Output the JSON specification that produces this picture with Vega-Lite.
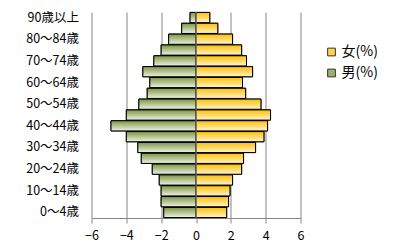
{
  "$schema": "https://vega.github.io/schema/vega-lite/v6.json",
  "autosize": "none",
  "width": 209,
  "height": 206,
  "padding": {"left": 91.5, "top": 12, "right": 110.5, "bottom": 32},
  "background": "white",
  "config": {
    "view": {"stroke": null},
    "font": "Noto Sans CJK JP",
    "axis": {"labelFont": "Noto Sans CJK JP", "labelColor": "#000000", "labelFontSize": 12.5},
    "legend": {"labelFont": "Noto Sans CJK JP"}
  },
  "data": {
    "values": [
      {"age": "0～4歳", "sex": "男(%)", "value": -1.85},
      {"age": "5～9歳", "sex": "男(%)", "value": -2.0},
      {"age": "10～14歳", "sex": "男(%)", "value": -2.0},
      {"age": "15～19歳", "sex": "男(%)", "value": -2.11},
      {"age": "20～24歳", "sex": "男(%)", "value": -2.51},
      {"age": "25～29歳", "sex": "男(%)", "value": -3.14},
      {"age": "30～34歳", "sex": "男(%)", "value": -3.34},
      {"age": "35～39歳", "sex": "男(%)", "value": -4.0},
      {"age": "40～44歳", "sex": "男(%)", "value": -4.88},
      {"age": "45～49歳", "sex": "男(%)", "value": -4.0},
      {"age": "50～54歳", "sex": "男(%)", "value": -3.28},
      {"age": "55～59歳", "sex": "男(%)", "value": -2.8},
      {"age": "60～64歳", "sex": "男(%)", "value": -2.65},
      {"age": "65～69歳", "sex": "男(%)", "value": -3.05},
      {"age": "70～74歳", "sex": "男(%)", "value": -2.42},
      {"age": "75～79歳", "sex": "男(%)", "value": -2.0},
      {"age": "80～84歳", "sex": "男(%)", "value": -1.57},
      {"age": "85～89歳", "sex": "男(%)", "value": -0.82},
      {"age": "90歳以上", "sex": "男(%)", "value": -0.34},
      {"age": "0～4歳", "sex": "女(%)", "value": 1.76},
      {"age": "5～9歳", "sex": "女(%)", "value": 1.87},
      {"age": "10～14歳", "sex": "女(%)", "value": 1.95},
      {"age": "15～19歳", "sex": "女(%)", "value": 2.1},
      {"age": "20～24歳", "sex": "女(%)", "value": 2.62},
      {"age": "25～29歳", "sex": "女(%)", "value": 2.73},
      {"age": "30～34歳", "sex": "女(%)", "value": 3.42},
      {"age": "35～39歳", "sex": "女(%)", "value": 3.9},
      {"age": "40～44歳", "sex": "女(%)", "value": 4.11},
      {"age": "45～49歳", "sex": "女(%)", "value": 4.28},
      {"age": "50～54歳", "sex": "女(%)", "value": 3.73},
      {"age": "55～59歳", "sex": "女(%)", "value": 2.85},
      {"age": "60～64歳", "sex": "女(%)", "value": 2.67},
      {"age": "65～69歳", "sex": "女(%)", "value": 3.25},
      {"age": "70～74歳", "sex": "女(%)", "value": 2.9},
      {"age": "75～79歳", "sex": "女(%)", "value": 2.62},
      {"age": "80～84歳", "sex": "女(%)", "value": 2.1},
      {"age": "85～89歳", "sex": "女(%)", "value": 1.25},
      {"age": "90歳以上", "sex": "女(%)", "value": 0.79}
    ]
  },
  "encoding": {
    "y": {
      "field": "age",
      "type": "nominal",
      "sort": ["90歳以上", "85～89歳", "80～84歳", "75～79歳", "70～74歳", "65～69歳", "60～64歳", "55～59歳", "50～54歳", "45～49歳", "40～44歳", "35～39歳", "30～34歳", "25～29歳", "20～24歳", "15～19歳", "10～14歳", "5～9歳", "0～4歳"],
      "scale": {"paddingInner": 0.06, "paddingOuter": 0.04},
      "axis": {
        "title": null,
        "domain": false,
        "ticks": false,
        "grid": false,
        "labelPadding": 13,
        "values": ["90歳以上", "80～84歳", "70～74歳", "60～64歳", "50～54歳", "40～44歳", "30～34歳", "20～24歳", "10～14歳", "0～4歳"]
      }
    },
    "x": {
      "field": "value",
      "type": "quantitative",
      "scale": {"domain": [-6, 6], "nice": false},
      "axis": {
        "title": null,
        "values": [-6, -4, -2, 0, 2, 4, 6],
        "grid": true,
        "gridColor": "#868686",
        "gridWidth": 1,
        "domainColor": "#868686",
        "tickColor": "#868686",
        "tickSize": 5,
        "labelPadding": 6,
        "labelFlush": false
      }
    }
  },
  "layer": [
    {
      "mark": {"type": "bar", "stroke": "#000000", "strokeWidth": 1},
      "encoding": {
        "color": {
          "field": "sex",
          "type": "nominal",
          "scale": {"domain": ["女(%)", "男(%)"], "range": ["#FFD34D", "#9DB070"]},
          "legend": {
            "title": null,
            "orient": "none",
            "legendX": 233,
            "legendY": 33,
            "symbolType": "square",
            "symbolSize": 60,
            "symbolStrokeColor": "#333333",
            "symbolStrokeWidth": 1,
            "labelFontSize": 14,
            "labelColor": "#000000",
            "rowPadding": 7,
            "labelOffset": 3
          }
        }
      }
    },
    {
      "transform": [{"filter": "datum.sex === '男(%)'"}],
      "mark": {
        "type": "bar",
        "stroke": "#000000",
        "strokeWidth": 1,
        "fill": {
          "gradient": "linear", "x1": 0, "y1": 0, "x2": 0, "y2": 1,
          "stops": [{"offset": 0, "color": "#7D9640"}, {"offset": 1, "color": "#EEF1E6"}]
        }
      }
    },
    {
      "transform": [{"filter": "datum.sex === '女(%)'"}],
      "mark": {
        "type": "bar",
        "stroke": "#000000",
        "strokeWidth": 1,
        "fill": {
          "gradient": "linear", "x1": 0, "y1": 0, "x2": 0, "y2": 1,
          "stops": [{"offset": 0, "color": "#FFC000"}, {"offset": 1, "color": "#FFF3CF"}]
        }
      }
    },
    {
      "data": {"values": [{"zero": 0}]},
      "mark": {"type": "rule", "color": "#868686", "strokeWidth": 1},
      "encoding": {"x": {"field": "zero", "type": "quantitative"}, "y": {"value": 0}, "y2": {"value": 206}}
    }
  ]
}
